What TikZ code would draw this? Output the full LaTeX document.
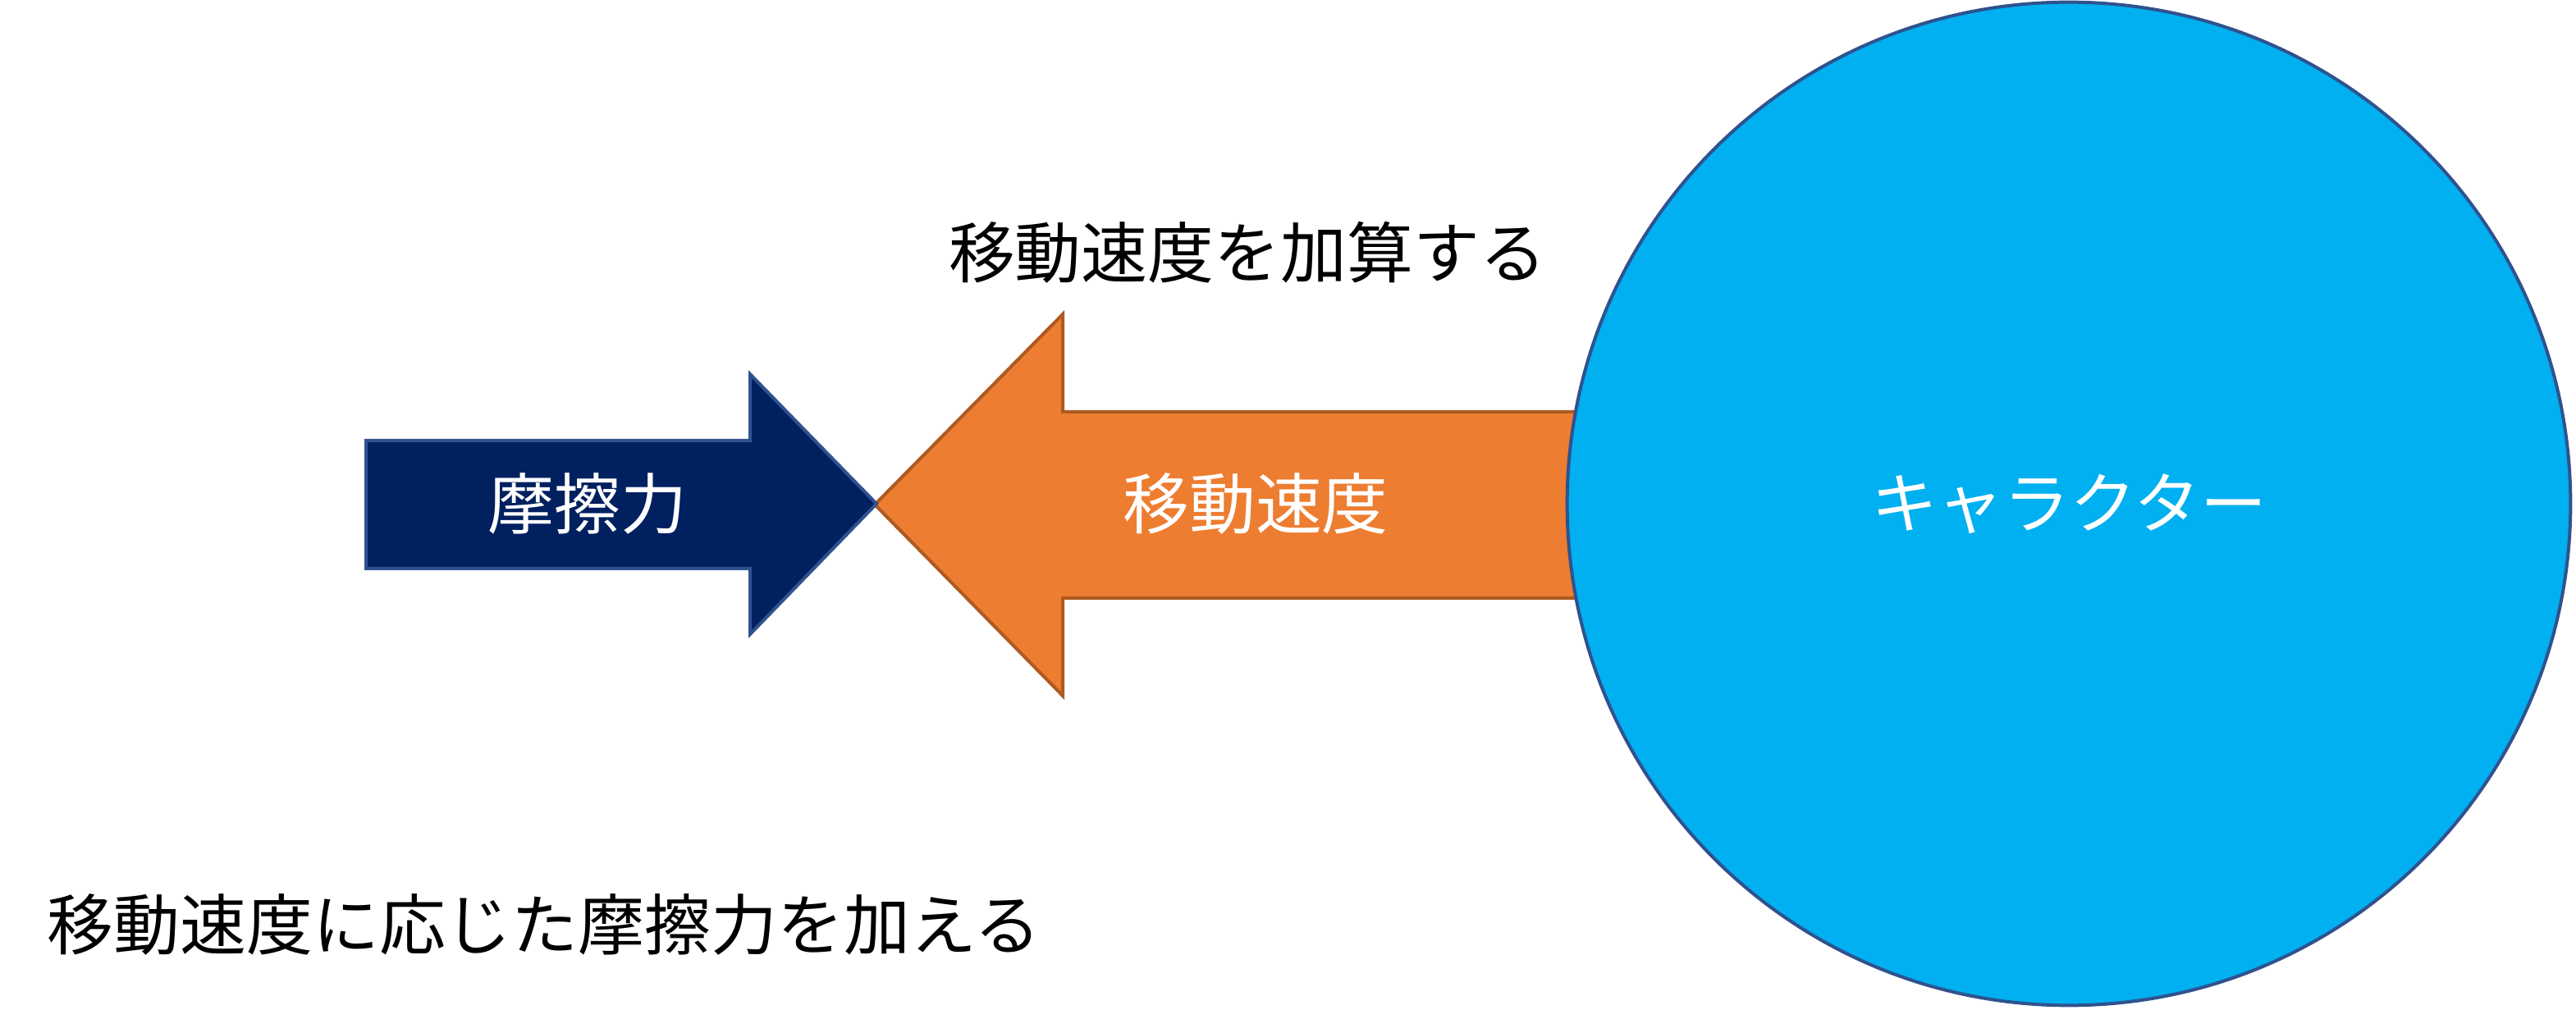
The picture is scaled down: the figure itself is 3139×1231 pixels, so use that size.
\documentclass[tikz,border=0pt]{standalone}
\usepackage{fontspec}
\setmainfont{Noto Sans CJK JP}
\usepackage{tikz}
\usetikzlibrary{positioning}
\definecolor{navyfill}{HTML}{002060}
\definecolor{bluerim}{HTML}{2F528F}
\definecolor{orangefill}{HTML}{ED7D31}
\definecolor{orangerim}{HTML}{AE5A21}
\definecolor{charfill}{HTML}{00B0F0}
\tikzset{
  lbl/.style={font=\fontsize{23}{28}\selectfont, inner sep=0pt},
  wlbl/.style={lbl, text=white},
  rim/.style={line width=0.04cm, line join=miter}
}
\begin{document}
\begin{tikzpicture}[x=0.01cm,y=-0.01cm]
%
\useasboundingbox (0,0) rectangle (3139,1231);
%
% velocity arrow (goes under the character)
\draw[rim, draw=orangerim, fill=orangefill]
  (1066,615) -- (1295,383) -- (1295,502) -- (2000,502)
  -- (2000,729) -- (1295,729) -- (1295,848) -- cycle;
% friction arrow
\draw[rim, draw=bluerim, fill=navyfill]
  (446,537) -- (914,537) -- (914,456) -- (1068,614)
  -- (914,773) -- (914,693) -- (446,693) -- cycle;
%
\node[circle, rim, draw=bluerim, fill=charfill, minimum size=12.22cm, inner sep=0pt] (chara) at (2521,614) {};
\node[wlbl] (charaT) at (chara.center) {キャラクター};
%
\node[wlbl] (fric) at (716,614) {摩擦力};
\node[wlbl] (vel) at (1530,614) {移動速度};
%
\node[lbl] (add) at (1520,308) {移動速度を加算する};
\node[lbl] (apply) at (663,1127) {移動速度に応じた摩擦力を加える};
%
\end{tikzpicture}
\end{document}
